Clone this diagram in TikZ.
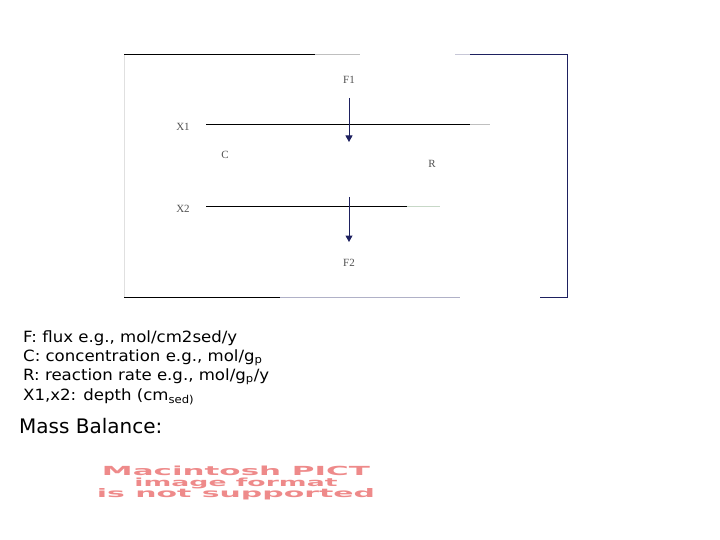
\documentclass[tikz,border=0pt]{standalone}
\usepackage{fontspec}
\setmainfont{Liberation Serif}
\newfontfamily\verd{DejaVu Sans}
\newfontfamily\verdb{DejaVu Sans Bold}
\usetikzlibrary{arrows.meta}
\definecolor{navy}{HTML}{1E2160}
\definecolor{pict}{HTML}{EE8A8A}
\definecolor{lbl}{HTML}{505050}
\newcommand{\wide}[1]{\scalebox{1.07}[1]{#1}}
\begin{document}
\begin{tikzpicture}[x=1pt,y=-1pt,
  lab/.style={font=\fontsize{11}{13}\selectfont, text=lbl, inner sep=0pt},
  legend/.style={font=\verd\fontsize{15.5}{18}\selectfont, anchor=base west, inner sep=0pt},
  flux/.style={navy, line width=1pt, -{Triangle[width=7pt,length=6.5pt]}},
  layer/.style={black, line width=1pt},
  frame/.style={line width=1pt},
  pictt/.style={text=pict, inner sep=0pt, anchor=base}]
\useasboundingbox (0,0) rectangle (720,540);
% frame
\draw[frame, black] (124,55) -- (315,55);
\draw[frame, black!25] (315,55) -- (360,55);
\draw[frame, navy!25] (455,55) -- (470,55);
\draw[frame, navy] (470,55) -- (567,55) -- (567,297) -- (540,297);
\draw[frame, black] (124,297) -- (280,297);
\draw[frame, navy!35] (280,297) -- (460,297);
\draw[black!12, line width=0.6pt] (124,55) -- (124,297);
% layers
\coordinate (x1a) at (206,125);
\coordinate (x1b) at (470,125);
\coordinate (x1c) at (490,125);
\coordinate (x2a) at (206,207);
\coordinate (x2b) at (407,207);
\coordinate (x2c) at (440,207);
\draw[layer] (x1a) -- (x1b);
\draw[black!25, line width=1pt] (x1b) -- (x1c);
\draw[layer] (x2a) -- (x2b);
\draw[green!30!black!22, line width=1pt] (x2b) -- (x2c);
% fluxes
\coordinate (f1s) at (349,98);
\coordinate (f1e) at (349,142);
\coordinate (f2s) at (349,197);
\coordinate (f2e) at (349,242);
\draw[flux] (f1s) -- (f1e);
\draw[flux] (f2s) -- (f2e);
% labels
\node[lab] (F1) at (349,80) {F1};
\node[lab] (X1) at (183,127) {X1};
\node[lab] (C) at (225,155) {C};
\node[lab] (R) at (432,164) {R};
\node[lab] (X2) at (183,209) {X2};
\node[lab] (F2) at (349,263) {F2};
% legend
\node[legend] (l1) at (23,342) {\wide{F: flux e.g., mol/cm2sed/y}};
\node[legend] (l2) at (23,361) {\wide{C: concentration e.g., mol/g\textsubscript{p}}};
\node[legend] (l3) at (23,380) {\wide{R: reaction rate e.g., mol/g\textsubscript{p}/y}};
\node[legend] (l4) at (23,400) {\wide{X1,x2: depth (cm\textsubscript{sed)}}};
\node[legend, font=\verd\fontsize{20}{24}\selectfont] (mb) at (19,433) {Mass Balance:};
% placeholder text
\node[pictt] (p1) at (236,475) {\resizebox{268pt}{9.5pt}{\verdb Macintosh PICT}};
\node[pictt] (p2) at (236,486) {\resizebox{203pt}{8.5pt}{\verdb image format}};
\node[pictt] (p3) at (236,497) {\resizebox{278pt}{9pt}{\verdb is not supported}};
\end{tikzpicture}
\end{document}
